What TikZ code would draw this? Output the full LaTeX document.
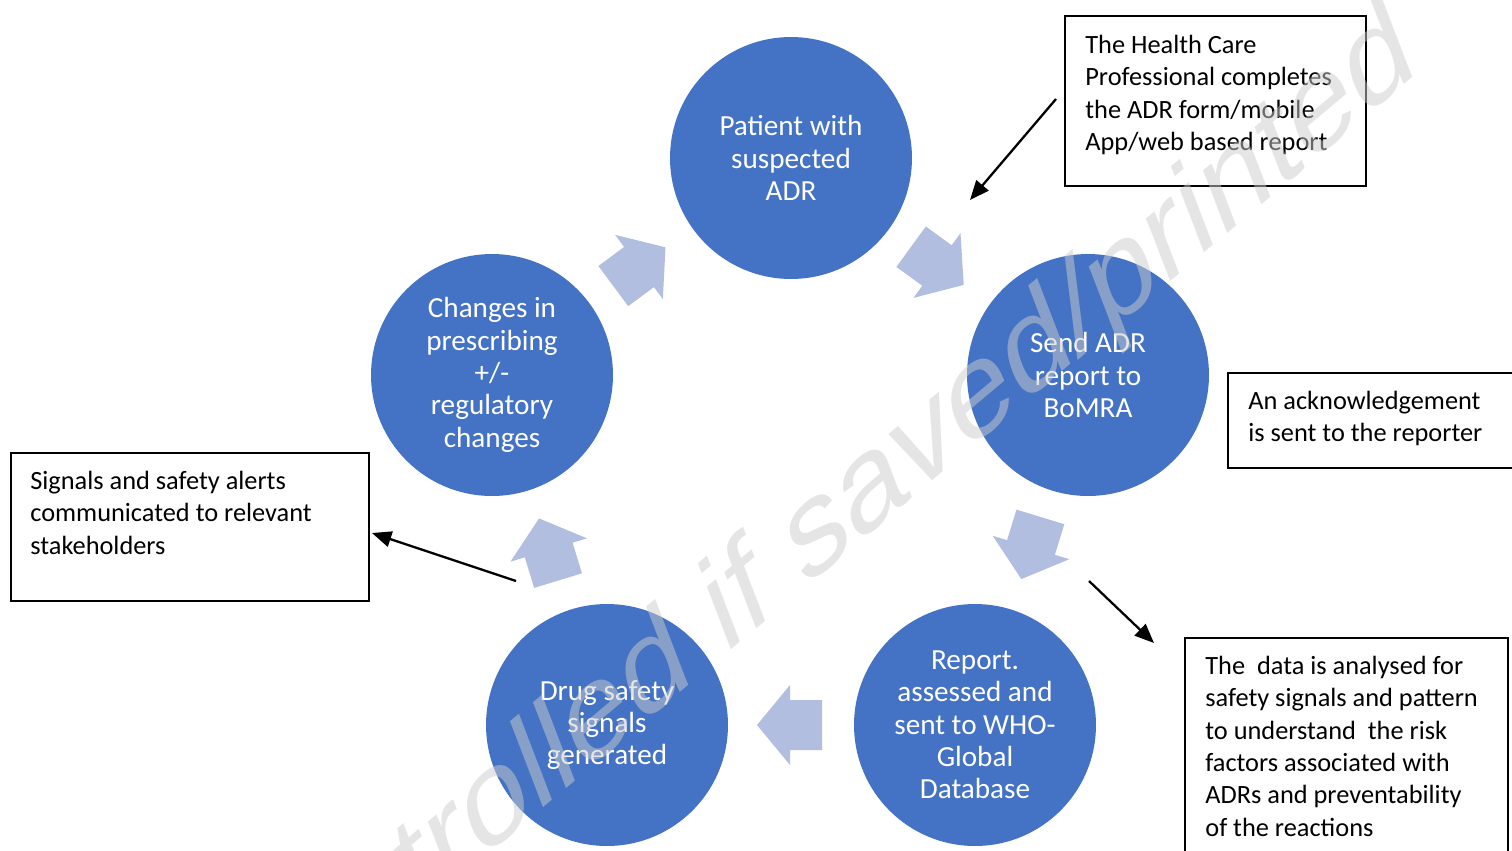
\documentclass[tikz,border=0pt]{standalone}
\usepackage{fontspec}
\setmainfont{Carlito}
\newfontfamily\wmfont{Liberation Sans}
\usetikzlibrary{arrows.meta}
\definecolor{circblue}{HTML}{4472C4}
\definecolor{arrblue}{RGB}{177,190,224}
\definecolor{wmgray}{RGB}{204,204,204}
\tikzset{
  stage/.style={circle, fill=circblue, draw=none, minimum size=4.84cm, inner sep=0pt,
    text=white, align=center, font=\fontsize{16.6}{18.4}\selectfont},
  notebox/.style={draw=black, line width=1.1pt, anchor=north west, inner sep=0pt},
  notetext/.style={anchor=north west, inner sep=0pt, align=left, font=\fontsize{15}{18.4}\selectfont},
  pointer/.style={draw=black, line width=1.3pt, -{Triangle[length=11pt,width=9pt]}},
  blockarrow/.style={fill=arrblue, draw=none}
}
\begin{document}
\begin{tikzpicture}[x=0.02cm,y=-0.02cm]
\useasboundingbox (0,0) rectangle (1512,850);
\clip (0,0) rectangle (1512,850);
\fill[white] (0,0) rectangle (1512,850);

% stages
\node[stage] (patient) at (791,158) {Patient with\\suspected\\ADR};
\node[stage] (send) at (1088,375) {Send ADR\\report to\\BoMRA};
\node[stage] (report) at (975,725) {Report.\\assessed and\\sent to WHO-\\Global\\Database};
\node[stage] (drug) at (607,725) {Drug safety\\signals\\generated};
\node[stage] (changes) at (492,375) {Changes in\\prescribing\\+/-\\regulatory\\changes};

% block arrows
\foreach \cx/\cy/\ang in {639/267/36.6, 937/265.5/-36, 1031/547.5/-107, 790/725/180, 548.7/550/107}{
  \fill[blockarrow, shift={(\cx,\cy)}, rotate=\ang]
    (-32,-25) -- (0,-25) -- (0,-40) -- (33,0) -- (0,40) -- (0,25) -- (-32,25) -- cycle;
}

% note boxes
\node[notebox, minimum width=6.02cm, minimum height=3.4cm] (hcpbox) at (1064,15) {};
\node[notetext] (hcptext) at (1085,35) {The Health Care\\Professional completes\\the ADR form/mobile\\App/web based report};

\node[notebox, minimum width=6cm, minimum height=1.9cm] (ackbox) at (1227,372) {};
\node[notetext] (acktext) at (1248,391) {An acknowledgement\\is sent to the reporter};

\node[notebox, minimum width=6.46cm, minimum height=5cm] (databox) at (1184,637) {};
\node[notetext] (datatext) at (1205,656) {The\ \ data is analysed for\\safety signals and pattern\\to understand\ \ the risk\\factors associated with\\ADRs and preventability\\of the reactions};

\node[notebox, minimum width=7.16cm, minimum height=2.96cm] (sigbox) at (10,452) {};
\node[notetext] (sigtext) at (30,471) {Signals and safety alerts\\communicated to relevant\\stakeholders};

% pointers
\coordinate (p1s) at (1056,99);
\coordinate (p1e) at (970,200);
\draw[pointer] (p1s) -- (p1e);
\coordinate (p2s) at (516,581);
\coordinate (p2e) at (372,533);
\draw[pointer] (p2s) -- (p2e);
\coordinate (p3s) at (1089,581);
\coordinate (p3e) at (1154,643);
\draw[pointer] (p3s) -- (p3e);

% watermark
\begin{scope}[shift={(120,1163)}, cm={0.766,0.643,-0.340,0.887,(0,0)}]
\node[anchor=base west, inner sep=0pt, transform shape, text=wmgray, opacity=0.5,
  font=\wmfont\fontsize{76.2}{80}\selectfont] (wm) at (0,0) {Uncontrolled if saved/printed};
\end{scope}
\end{tikzpicture}
\end{document}
